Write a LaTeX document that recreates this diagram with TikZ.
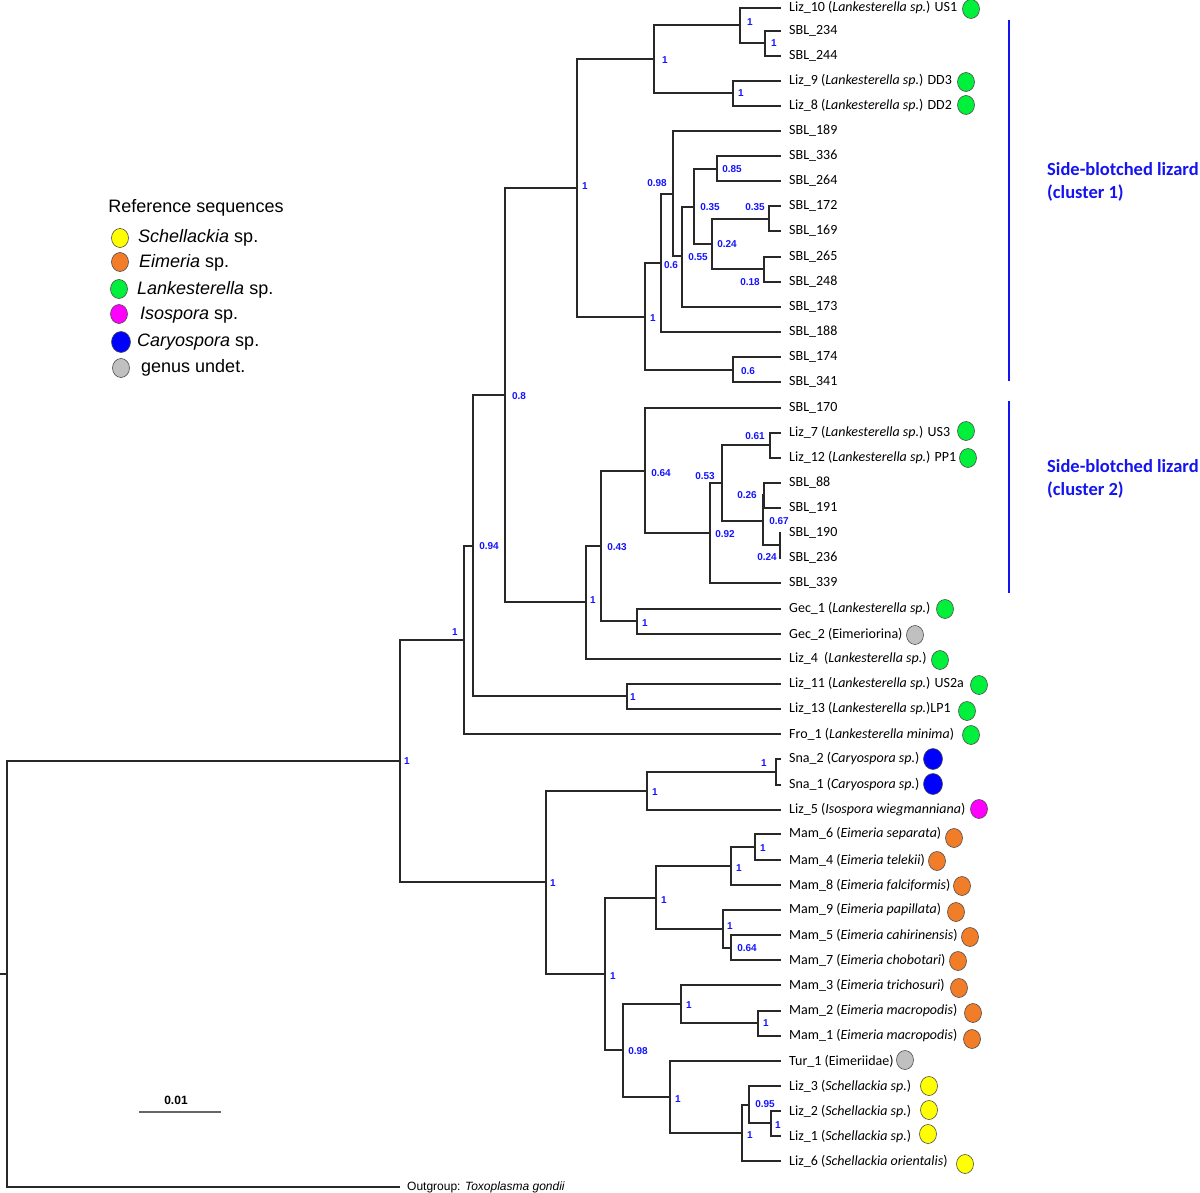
\documentclass[tikz,border=0pt]{standalone}
\usepackage{fontspec}
\setmainfont{Carlito}
\newfontfamily\arialfont{Liberation Sans}
\usetikzlibrary{shapes.geometric}
\definecolor{treegray}{RGB}{40,40,40}
\definecolor{supblue}{RGB}{20,20,255}
\definecolor{clusterblue}{RGB}{20,20,240}
\definecolor{lankgreen}{RGB}{0,240,60}
\definecolor{eimorange}{RGB}{242,125,40}
\definecolor{schyellow}{RGB}{255,255,0}
\definecolor{isomagenta}{RGB}{255,0,255}
\definecolor{caryblue}{RGB}{0,0,255}
\definecolor{undetgray}{RGB}{192,192,192}
\begin{document}
\begin{tikzpicture}[x=1pt, y=-1pt]
  \tikzstyle{branch} = [draw=treegray, line width=1.8pt]
  \tikzstyle{taxon} = [anchor=west, inner xsep=8pt, inner ysep=1pt, font=\fontsize{14}{16}\selectfont]
  \tikzstyle{outtaxon} = [anchor=west, inner xsep=7pt, inner ysep=1pt, font=\arialfont\fontsize{12}{14}\selectfont]
  \tikzstyle{bsval} = [text=supblue, inner sep=0pt, font=\arialfont\bfseries\fontsize{10}{12}\selectfont]
  \tikzstyle{tipdot} = [ellipse, draw=black!70, line width=0.6pt, minimum width=17pt, minimum height=19pt, inner sep=0pt]
  \tikzstyle{bigdot} = [tipdot, minimum width=19pt, minimum height=21pt]
  \tikzstyle{legtext} = [anchor=west, inner sep=0pt, font=\arialfont\fontsize{18}{20}\selectfont]
  \tikzstyle{cluster} = [anchor=west, align=left, inner sep=0pt, text=clusterblue, font=\fontsize{18.5}{22.5}\selectfont\bfseries]
  \tikzstyle{bar} = [draw=clusterblue, line width=2pt]

  \useasboundingbox (0,0) rectangle (1200,1193);

  % legend
  \node [inner sep=0pt, font=\arialfont\fontsize{18}{20}\selectfont] at (196,208) (legtitle) {Reference sequences};
  \node [tipdot, fill=schyellow] at (120,238) (leg_sch) {};
  \node [legtext] at (138,238) (legt_sch) {\textit{Schellackia} sp.};
  \node [tipdot, fill=eimorange] at (120,262) (leg_eim) {};
  \node [legtext] at (139,263) (legt_eim) {\textit{Eimeria} sp.};
  \node [tipdot, fill=lankgreen] at (119,289) (leg_lan) {};
  \node [legtext] at (137,290) (legt_lan) {\textit{Lankesterella} sp.};
  \node [tipdot, fill=isomagenta] at (119,314) (leg_iso) {};
  \node [legtext] at (140,315) (legt_iso) {\textit{Isospora} sp.};
  \node [bigdot, fill=caryblue] at (121,342) (leg_car) {};
  \node [legtext] at (137,342) (legt_car) {\textit{Caryospora} sp.};
  \node [tipdot, fill=undetgray] at (121,368) (leg_und) {};
  \node [legtext] at (141,368) (legt_und) {genus undet.};

  % taxa
  \node [taxon] at (781,8) (liz10) {Liz\_10 (\textit{Lankesterella sp.}) US1};
  \node [taxon] at (781,31) (sbl234) {SBL\_234};
  \node [taxon] at (781,56) (sbl244) {SBL\_244};
  \node [taxon] at (781,81) (liz9) {Liz\_9 (\textit{Lankesterella sp.}) DD3};
  \node [taxon] at (781,106) (liz8) {Liz\_8 (\textit{Lankesterella sp.}) DD2};
  \node [taxon] at (781,131) (sbl189) {SBL\_189};
  \node [taxon] at (781,156) (sbl336) {SBL\_336};
  \node [taxon] at (781,181) (sbl264) {SBL\_264};
  \node [taxon] at (781,206) (sbl172) {SBL\_172};
  \node [taxon] at (781,231) (sbl169) {SBL\_169};
  \node [taxon] at (781,257) (sbl265) {SBL\_265};
  \node [taxon] at (781,282) (sbl248) {SBL\_248};
  \node [taxon] at (781,307) (sbl173) {SBL\_173};
  \node [taxon] at (781,332) (sbl188) {SBL\_188};
  \node [taxon] at (781,357) (sbl174) {SBL\_174};
  \node [taxon] at (781,382) (sbl341) {SBL\_341};
  \node [taxon] at (781,408) (sbl170) {SBL\_170};
  \node [taxon] at (781,433) (liz7) {Liz\_7 (\textit{Lankesterella sp.}) US3};
  \node [taxon] at (781,458) (liz12) {Liz\_12 (\textit{Lankesterella sp.}) PP1};
  \node [taxon] at (781,483) (sbl88) {SBL\_88};
  \node [taxon] at (781,508) (sbl191) {SBL\_191};
  \node [taxon] at (781,533) (sbl190) {SBL\_190};
  \node [taxon] at (781,558) (sbl236) {SBL\_236};
  \node [taxon] at (781,583) (sbl339) {SBL\_339};
  \node [taxon] at (781,609) (gec1) {Gec\_1 (\textit{Lankesterella sp.})};
  \node [taxon] at (781,634) (gec2) {Gec\_2 (Eimeriorina)};
  \node [taxon] at (781,659) (liz4) {Liz\_4\ \ (\textit{Lankesterella sp.})};
  \node [taxon] at (781,684) (liz11) {Liz\_11 (\textit{Lankesterella sp.}) US2a};
  \node [taxon] at (781,709) (liz13) {Liz\_13 (\textit{Lankesterella sp.})LP1};
  \node [taxon] at (781,734) (fro1) {Fro\_1 (\textit{Lankesterella minima})};
  \node [taxon] at (781,759) (sna2) {Sna\_2 (\textit{Caryospora sp.})};
  \node [taxon] at (781,785) (sna1) {Sna\_1 (\textit{Caryospora sp.})};
  \node [taxon] at (781,810) (liz5) {Liz\_5 (\textit{Isospora wiegmanniana})};
  \node [taxon] at (781,834) (mam6) {Mam\_6 (\textit{Eimeria separata})};
  \node [taxon] at (781,860) (mam4) {Mam\_4 (\textit{Eimeria telekii})};
  \node [taxon] at (781,885) (mam8) {Mam\_8 (\textit{Eimeria falciformis})};
  \node [taxon] at (781,910) (mam9) {Mam\_9 (\textit{Eimeria papillata})};
  \node [taxon] at (781,935) (mam5) {Mam\_5 (\textit{Eimeria cahirinensis})};
  \node [taxon] at (781,960) (mam7) {Mam\_7 (\textit{Eimeria chobotari})};
  \node [taxon] at (781,985) (mam3) {Mam\_3 (\textit{Eimeria trichosuri})};
  \node [taxon] at (781,1011) (mam2) {Mam\_2 (\textit{Eimeria macropodis})};
  \node [taxon] at (781,1036) (mam1) {Mam\_1 (\textit{Eimeria macropodis})};
  \node [taxon] at (781,1061) (tur1) {Tur\_1 (Eimeriidae)};
  \node [taxon] at (781,1086) (liz3) {Liz\_3 (\textit{Schellackia sp.})};
  \node [taxon] at (781,1111) (liz2) {Liz\_2 (\textit{Schellackia sp.})};
  \node [taxon] at (781,1136) (liz1) {Liz\_1 (\textit{Schellackia sp.})};
  \node [taxon] at (781,1161) (liz6) {Liz\_6 (\textit{Schellackia orientalis})};
  \node [outtaxon] at (400,1187) (outg) {Outgroup: \textit{Toxoplasma gondii}};

  % markers
  \node [tipdot, fill=lankgreen] at (971,9) (c_liz10) {};
  \node [tipdot, fill=lankgreen] at (966,82) (c_liz9) {};
  \node [tipdot, fill=lankgreen] at (966,105) (c_liz8) {};
  \node [tipdot, fill=lankgreen] at (966,431) (c_liz7) {};
  \node [tipdot, fill=lankgreen] at (968,458) (c_liz12) {};
  \node [tipdot, fill=lankgreen] at (945,609) (c_gec1) {};
  \node [tipdot, fill=undetgray] at (915,635) (c_gec2) {};
  \node [tipdot, fill=lankgreen] at (940,660) (c_liz4) {};
  \node [tipdot, fill=lankgreen] at (979,685) (c_liz11) {};
  \node [tipdot, fill=lankgreen] at (967,711) (c_liz13) {};
  \node [tipdot, fill=lankgreen] at (971,735) (c_fro1) {};
  \node [bigdot, fill=caryblue] at (933,759) (c_sna2) {};
  \node [bigdot, fill=caryblue] at (933,784) (c_sna1) {};
  \node [tipdot, fill=isomagenta] at (979,809) (c_liz5) {};
  \node [tipdot, fill=eimorange] at (954,838) (c_mam6) {};
  \node [tipdot, fill=eimorange] at (937,861) (c_mam4) {};
  \node [tipdot, fill=eimorange] at (962,886) (c_mam8) {};
  \node [tipdot, fill=eimorange] at (956,912) (c_mam9) {};
  \node [tipdot, fill=eimorange] at (970,937) (c_mam5) {};
  \node [tipdot, fill=eimorange] at (958,961) (c_mam7) {};
  \node [tipdot, fill=eimorange] at (959,988) (c_mam3) {};
  \node [tipdot, fill=eimorange] at (973,1013) (c_mam2) {};
  \node [tipdot, fill=eimorange] at (972,1039) (c_mam1) {};
  \node [tipdot, fill=undetgray] at (905,1060) (c_tur1) {};
  \node [tipdot, fill=schyellow] at (929,1086) (c_liz3) {};
  \node [tipdot, fill=schyellow] at (929,1110) (c_liz2) {};
  \node [tipdot, fill=schyellow] at (928,1134) (c_liz1) {};
  \node [tipdot, fill=schyellow] at (965,1164) (c_liz6) {};

  % internal nodes
  \coordinate (stub) at (0,974);
  \coordinate (root) at (7,974);
  \coordinate (nA) at (400,761);
  \coordinate (nB) at (464,640);
  \coordinate (nC) at (473,546);
  \coordinate (nD) at (505,395);
  \coordinate (nE) at (577,188);
  \coordinate (nG) at (654,59);
  \coordinate (nI) at (740,25);
  \coordinate (nK) at (765,43);
  \coordinate (nJ) at (733,93);
  \coordinate (nH) at (645,317);
  \coordinate (nL) at (661,263);
  \coordinate (nM) at (733,370);
  \coordinate (nN) at (673,194);
  \coordinate (nO) at (682,256);
  \coordinate (nP) at (694,207);
  \coordinate (nQ) at (717,169);
  \coordinate (nR) at (712,244);
  \coordinate (nS) at (769,219);
  \coordinate (nT) at (764,269);
  \coordinate (nF) at (586,602);
  \coordinate (nU) at (601,546);
  \coordinate (nV) at (645,471);
  \coordinate (nW) at (710,533);
  \coordinate (nX) at (722,483);
  \coordinate (nY) at (770,445);
  \coordinate (nZ) at (763,521);
  \coordinate (nAA) at (764,495);
  \coordinate (nAB) at (780,545);
  \coordinate (nGec) at (637,621);
  \coordinate (nLL) at (627,696);
  \coordinate (nBB) at (546,882);
  \coordinate (nCC) at (647,791);
  \coordinate (nDD) at (776,772);
  \coordinate (nAC) at (605,974);
  \coordinate (nEE) at (656,898);
  \coordinate (nFF) at (731,866);
  \coordinate (nGG) at (755,847);
  \coordinate (nHH) at (723,929);
  \coordinate (nII) at (731,948);
  \coordinate (nAD) at (623,1050);
  \coordinate (nAE) at (681,1004);
  \coordinate (nAF) at (758,1023);
  \coordinate (nAG) at (670,1097);
  \coordinate (nAH) at (742,1133);
  \coordinate (nAI) at (749,1105);
  \coordinate (nAJ) at (771,1123);

  % branches
  \draw[branch] (stub) -- (root);
  \draw[branch] (root) |- (nA) (root) |- (outg);
  \draw[branch] (nA) |- (nB) (nA) |- (nBB);
  \draw[branch] (nB) |- (nC) (nB) |- (fro1);
  \draw[branch] (nC) |- (nD) (nC) |- (nLL);
  \draw[branch] (nLL) |- (liz11) (nLL) |- (liz13);
  \draw[branch] (nD) |- (nE) (nD) |- (nF);
  \draw[branch] (nE) |- (nG) (nE) |- (nH);
  \draw[branch] (nG) |- (nI) (nG) |- (nJ);
  \draw[branch] (nI) |- (liz10) (nI) |- (nK);
  \draw[branch] (nK) |- (sbl234) (nK) |- (sbl244);
  \draw[branch] (nJ) |- (liz9) (nJ) |- (liz8);
  \draw[branch] (nH) |- (nL) (nH) |- (nM);
  \draw[branch] (nM) |- (sbl174) (nM) |- (sbl341);
  \draw[branch] (nL) |- (nN) (nL) |- (sbl188);
  \draw[branch] (nN) |- (sbl189) (nN) |- (nO);
  \draw[branch] (nO) |- (nP) (nO) |- (sbl173);
  \draw[branch] (nP) |- (nQ) (nP) |- (nR);
  \draw[branch] (nQ) |- (sbl336) (nQ) |- (sbl264);
  \draw[branch] (nR) |- (nS) (nR) |- (nT);
  \draw[branch] (nS) |- (sbl172) (nS) |- (sbl169);
  \draw[branch] (nT) |- (sbl265) (nT) |- (sbl248);
  \draw[branch] (nF) |- (nU) (nF) |- (liz4);
  \draw[branch] (nU) |- (nV) (nU) |- (nGec);
  \draw[branch] (nGec) |- (gec1) (nGec) |- (gec2);
  \draw[branch] (nV) |- (sbl170) (nV) |- (nW);
  \draw[branch] (nW) |- (nX) (nW) |- (sbl339);
  \draw[branch] (nX) |- (nY) (nX) |- (nZ);
  \draw[branch] (nY) |- (liz7) (nY) |- (liz12);
  \draw[branch] (nZ) |- (nAA) (nZ) |- (nAB);
  \draw[branch] (nAA) |- (sbl88) (nAA) |- (sbl191);
  \draw[branch] (nAB) |- (sbl190) (nAB) |- (sbl236);
  \draw[branch] (nBB) |- (nCC) (nBB) |- (nAC);
  \draw[branch] (nCC) |- (nDD) (nCC) |- (liz5);
  \draw[branch] (nDD) |- (sna2) (nDD) |- (sna1);
  \draw[branch] (nAC) |- (nEE) (nAC) |- (nAD);
  \draw[branch] (nEE) |- (nFF) (nEE) |- (nHH);
  \draw[branch] (nFF) |- (nGG) (nFF) |- (mam8);
  \draw[branch] (nGG) |- (mam6) (nGG) |- (mam4);
  \draw[branch] (nHH) |- (mam9) (nHH) |- (nII);
  \draw[branch] (nII) |- (mam5) (nII) |- (mam7);
  \draw[branch] (nAD) |- (nAE) (nAD) |- (nAG);
  \draw[branch] (nAE) |- (mam3) (nAE) |- (nAF);
  \draw[branch] (nAF) |- (mam2) (nAF) |- (mam1);
  \draw[branch] (nAG) |- (tur1) (nAG) |- (nAH);
  \draw[branch] (nAH) |- (nAI) (nAH) |- (liz6);
  \draw[branch] (nAI) |- (liz3) (nAI) |- (nAJ);
  \draw[branch] (nAJ) |- (liz2) (nAJ) |- (liz1);

  % support values
  \node [bsval] at (407,761) (bA) {1};
  \node [bsval] at (455,632) (bB) {1};
  \node [bsval] at (489,546) (bC) {0.94};
  \node [bsval] at (519,396) (bD) {0.8};
  \node [bsval] at (585,186) (bE) {1};
  \node [bsval] at (665,60) (bG) {1};
  \node [bsval] at (750,22) (bI) {1};
  \node [bsval] at (774,43) (bK) {1};
  \node [bsval] at (741,93) (bJ) {1};
  \node [bsval] at (653,318) (bH) {1};
  \node [bsval] at (671,265) (bL) {0.6};
  \node [bsval] at (748,371) (bM) {0.6};
  \node [bsval] at (657,183) (bN) {0.98};
  \node [bsval] at (698,257) (bO) {0.55};
  \node [bsval] at (710,207) (bP) {0.35};
  \node [bsval] at (732,169) (bQ) {0.85};
  \node [bsval] at (727,244) (bR) {0.24};
  \node [bsval] at (755,207) (bS) {0.35};
  \node [bsval] at (750,282) (bT) {0.18};
  \node [bsval] at (593,600) (bF) {1};
  \node [bsval] at (617,547) (bU) {0.43};
  \node [bsval] at (645,623) (bGec) {1};
  \node [bsval] at (661,473) (bV) {0.64};
  \node [bsval] at (725,534) (bW) {0.92};
  \node [bsval] at (705,476) (bX) {0.53};
  \node [bsval] at (755,436) (bY) {0.61};
  \node [bsval] at (779,521) (bZ) {0.67};
  \node [bsval] at (747,495) (bAA) {0.26};
  \node [bsval] at (767,557) (bAB) {0.24};
  \node [bsval] at (633,697) (bLL) {1};
  \node [bsval] at (553,883) (bBB) {1};
  \node [bsval] at (655,792) (bCC) {1};
  \node [bsval] at (764,763) (bDD) {1};
  \node [bsval] at (613,976) (bAC) {1};
  \node [bsval] at (664,900) (bEE) {1};
  \node [bsval] at (739,868) (bFF) {1};
  \node [bsval] at (763,848) (bGG) {1};
  \node [bsval] at (730,926) (bHH) {1};
  \node [bsval] at (747,948) (bII) {0.64};
  \node [bsval] at (638,1051) (bAD) {0.98};
  \node [bsval] at (689,1005) (bAE) {1};
  \node [bsval] at (766,1023) (bAF) {1};
  \node [bsval] at (678,1099) (bAG) {1};
  \node [bsval] at (750,1135) (bAH) {1};
  \node [bsval] at (765,1104) (bAI) {0.95};
  \node [bsval] at (778,1125) (bAJ) {1};

  % clusters
  \coordinate (cl1_top) at (1009,20);
  \coordinate (cl1_bot) at (1009,381);
  \coordinate (cl2_top) at (1009,401);
  \coordinate (cl2_bot) at (1009,593);
  \draw[bar] (cl1_top) -- (cl1_bot);
  \draw[bar] (cl2_top) -- (cl2_bot);
  \node [cluster] at (1047,182) (cl1) {Side-blotched lizard\\(cluster 1)};
  \node [cluster] at (1047,479) (cl2) {Side-blotched lizard\\(cluster 2)};

  % scale bar
  \coordinate (sb_l) at (139,1112);
  \coordinate (sb_r) at (221,1112);
  \draw[draw=black!60, line width=1.2pt] (sb_l) -- (sb_r);
  \node [inner sep=0pt, font=\arialfont\bfseries\fontsize{12}{14}\selectfont] at (176,1100) (sb_lab) {0.01};
\end{tikzpicture}
\end{document}
